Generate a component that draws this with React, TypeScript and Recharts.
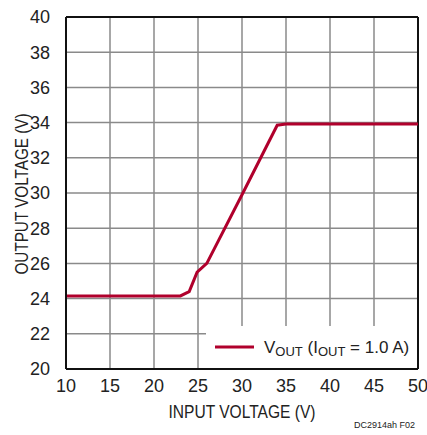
import React from 'react';
import {
  LineChart,
  Line,
  XAxis,
  YAxis,
  CartesianGrid,
  Legend,
  Label,
  ReferenceLine
} from 'recharts';

// input voltage (V) and output voltage (V)
const vin = [10, 15, 20, 23, 24, 24.9, 26, 30, 34, 35, 40, 45, 50];
const vout = [24.15, 24.15, 24.15, 24.15, 24.4, 25.5, 26.0, 29.9, 33.85, 33.92, 33.92, 33.92, 33.92];

const xTicks = [10, 15, 20, 25, 30, 35, 40, 45, 50];
const yTicks = [20, 22, 24, 26, 28, 30, 32, 34, 36, 38, 40];

const data = vin.map((v, i) => ({ vin: v, vout: vout[i] }));

const FONT = '"Liberation Sans Narrow", "Liberation Sans", Arial, sans-serif';
const RED = '#b0002c';
const INK = '#222';

// condensed axis titles: squeeze the text to the width the reference uses
const xTitle = (props: any) => {
  const vb = props.viewBox;
  return (
    <text
      x={vb.x + vb.width / 2}
      y={vb.y + 49}
      textAnchor="middle"
      fontFamily={FONT}
      fontSize={18}
      fill={INK}
      textLength={147}
      lengthAdjust="spacingAndGlyphs"
    >
      INPUT VOLTAGE (V)
    </text>
  );
};

const yTitle = (props: any) => {
  const vb = props.viewBox;
  const cx = vb.x + 28;
  const cy = vb.y + vb.height / 2 + 1;
  return (
    <text
      x={cx}
      y={cy}
      transform={`rotate(-90, ${cx}, ${cy})`}
      textAnchor="middle"
      fontFamily={FONT}
      fontSize={18}
      fill={INK}
      textLength={161}
      lengthAdjust="spacingAndGlyphs"
    >
      OUTPUT VOLTAGE (V)
    </text>
  );
};

// legend with subscripts, drawn as a white box over the lower-right of the grid
const LegendBox = () => (
  <div style={{ width: 211, height: 42, background: '#fff' }}>
    <svg width={211} height={42} style={{ display: 'block' }}>
      <line x1={9} y1={21} x2={48} y2={21} stroke={RED} strokeWidth={3} />
      <text x={58} y={27} fontFamily={FONT} fontSize={17} fill={INK}>
        V<tspan fontSize={13} dy={3}>OUT</tspan>
        <tspan dy={-3}> (I</tspan>
        <tspan fontSize={13} dy={3}>OUT</tspan>
        <tspan dy={-3}> = 1.0 A)</tspan>
      </text>
    </svg>
  </div>
);

export default function App() {
  return (
    <div style={{ position: 'absolute', left: 0, top: 0, width: 427, height: 435, background: '#fff' }}>
      <LineChart
        width={427}
        height={435}
        data={data}
        margin={{ top: 17, right: 9, left: 0, bottom: 0 }}
      >
        <CartesianGrid stroke="#8a8a8a" strokeWidth={1.5} horizontalValues={yTicks} verticalValues={xTicks} />
        <XAxis
          dataKey="vin"
          type="number"
          domain={[10, 50]}
          ticks={xTicks}
          height={66}
          axisLine={{ stroke: '#111', strokeWidth: 2 }}
          tickLine={false}
          tick={{ fontFamily: FONT, fontSize: 18, fill: INK }}
          tickMargin={4}
        >
          <Label content={xTitle} />
        </XAxis>
        <YAxis
          type="number"
          domain={[20, 40]}
          ticks={yTicks}
          width={66}
          axisLine={{ stroke: '#111', strokeWidth: 2 }}
          tickLine={false}
          tick={{ fontFamily: FONT, fontSize: 18, fill: INK }}
          tickMargin={10}
        >
          <Label content={yTitle} />
        </YAxis>
        <ReferenceLine y={40} stroke="#111" strokeWidth={2} />
        <ReferenceLine x={50} stroke="#111" strokeWidth={2} />
        <Legend
          layout="horizontal"
          verticalAlign="middle"
          align="center"
          content={<LegendBox />}
          wrapperStyle={{ position: 'absolute', left: 206, top: 326, width: 211, height: 42 }}
        />
        <Line
          type="linear"
          dataKey="vout"
          stroke={RED}
          strokeWidth={3}
          dot={false}
          isAnimationActive={false}
        />
      </LineChart>
      <div
        style={{
          position: 'absolute',
          left: 354,
          top: 420,
          fontFamily: FONT,
          fontSize: 9,
          color: INK
        }}
      >
        DC2914ah F02
      </div>
    </div>
  );
}
